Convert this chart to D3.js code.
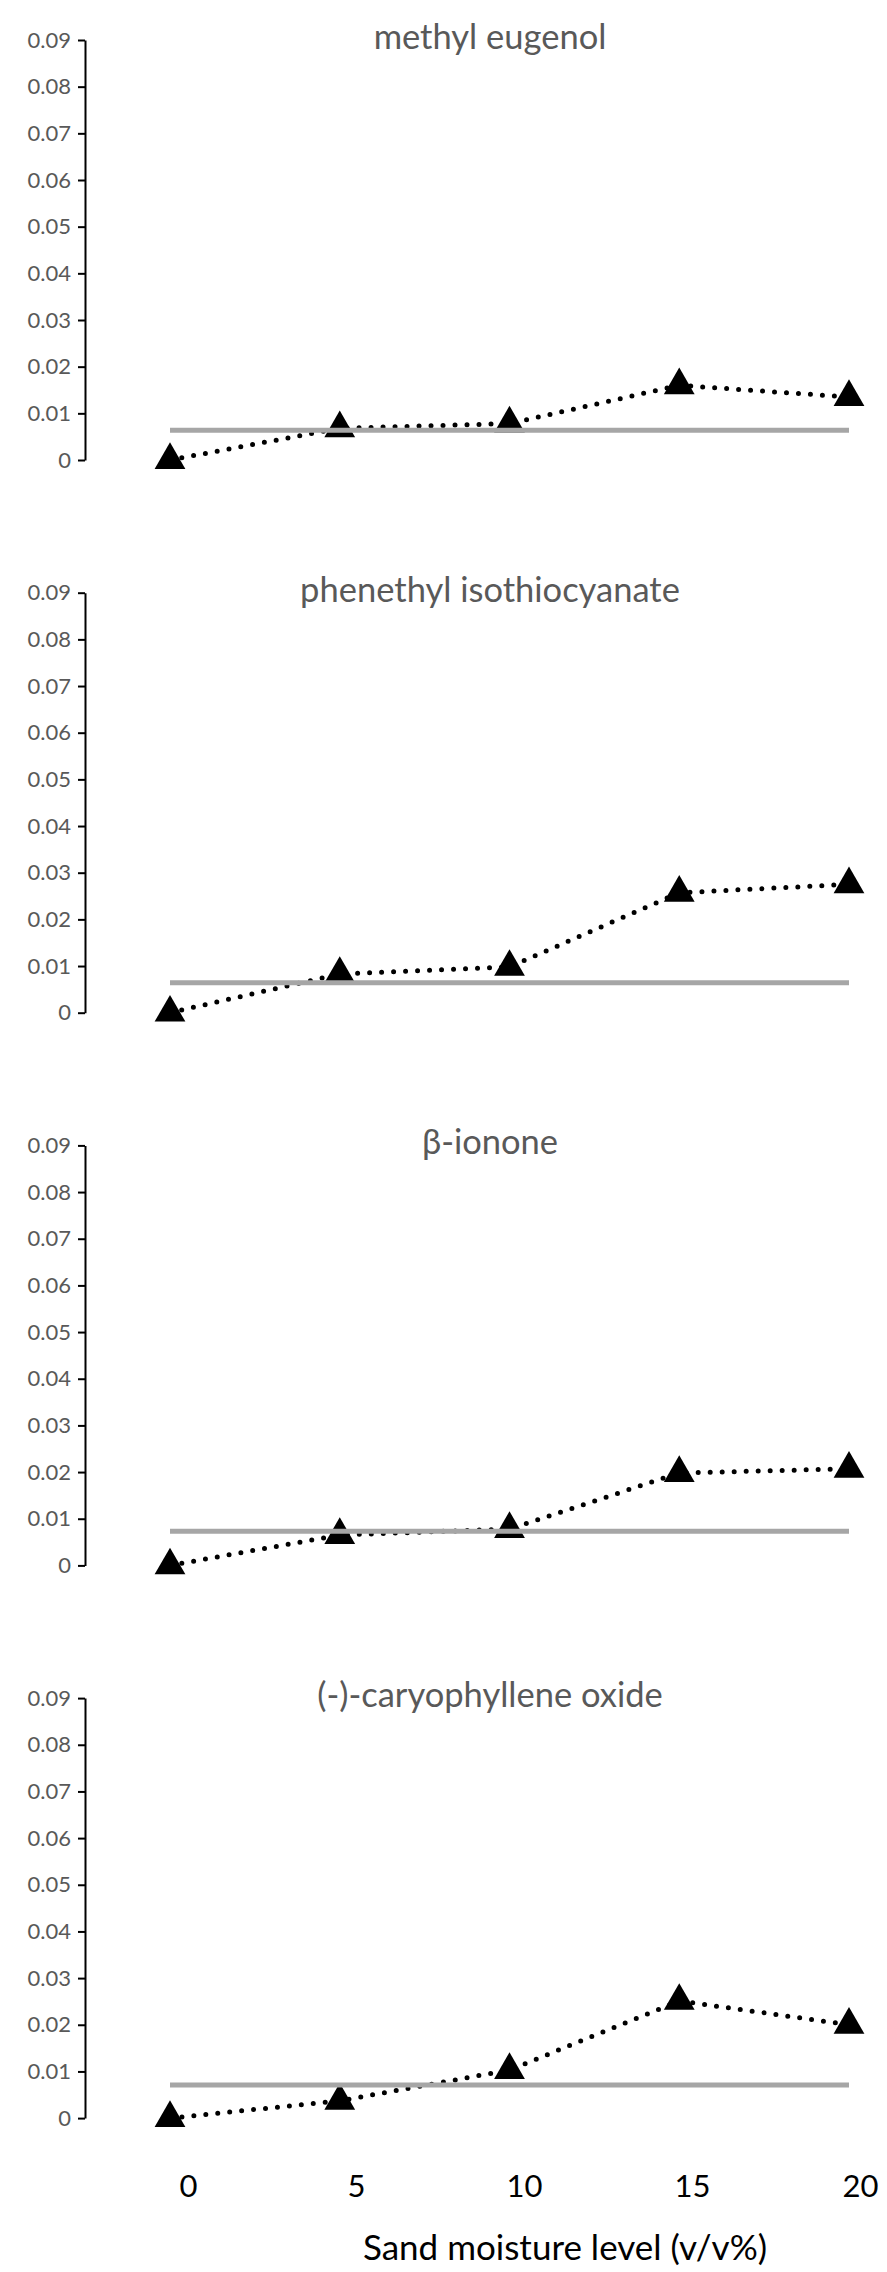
<!DOCTYPE html>
<html>
<head>
<meta charset="utf-8">
<script src="https://cdn.jsdelivr.net/npm/d3@7"></script>
<style>
  body { margin: 0; background: #fff; }
  svg { display: block; font-family: Lato, "Open Sans", sans-serif; }
</style>
</head>
<body>
<div id="chart"></div>
<script>
const width = 887;
const height = 2272;

// data
const moisture = [0, 5, 10, 15, 20];
const compounds = ["methyl eugenol", "phenethyl isothiocyanate", "β-ionone", "(-)-caryophyllene oxide"];
const methylEugenol = [0, 0.0068, 0.0078, 0.016, 0.0135];
const phenethylIsothiocyanate = [0, 0.0083, 0.0098, 0.0257, 0.0275];
const betaIonone = [0, 0.0065, 0.0078, 0.0198, 0.0207];
const caryophylleneOxide = [0, 0.0037, 0.0103, 0.0251, 0.020];
const controlLevel = [0.0064, 0.0064, 0.0073, 0.0071];
const yTicks = [0, 0.01, 0.02, 0.03, 0.04, 0.05, 0.06, 0.07, 0.08, 0.09];
const xAxisTitle = "Sand moisture level (v/v%)";

const series = [methylEugenol, phenethylIsothiocyanate, betaIonone, caryophylleneOxide];

const svg = d3.select("#chart")
    .append("svg")
    .attr("width", width)
    .attr("height", height);

const panelTop = 40;
const panelStep = 552.7;
const panelHeight = 420;
const axisX = 85;

const x = d3.scalePoint().domain(moisture).range([170, 849]);
const xLabels = d3.scalePoint().domain(moisture).range([188, 860]);

const triangle = d3.symbol().type(d3.symbolTriangle).size(410);

series.forEach((values, i) => {
    const top = panelTop + i * panelStep;
    const y = d3.scaleLinear().domain([0, 0.09]).range([top + panelHeight, top]);

    const g = svg.append("g");

    // y axis
    const yAxis = g.append("g")
        .attr("transform", `translate(${axisX},0)`)
        .call(d3.axisLeft(y)
            .tickValues(yTicks)
            .tickSize(7)
            .tickSizeOuter(0)
            .tickPadding(7)
            .tickFormat(d => d === 0 ? "0" : d3.format(".2f")(d)));
    yAxis.select(".domain").attr("stroke", "#000").attr("stroke-width", 2);
    yAxis.selectAll(".tick line").attr("stroke", "#000").attr("stroke-width", 2);
    yAxis.selectAll(".tick text")
        .attr("fill", "#595959")
        .style("font-size", "22px")
        .style("font-family", "Lato, sans-serif");

    // title
    g.append("text")
        .attr("x", 490)
        .attr("y", top + 9)
        .attr("text-anchor", "middle")
        .attr("fill", "#595959")
        .style("font-size", "34.5px")
        .text(compounds[i]);

    // dotted series line
    const line = d3.line()
        .x((d, j) => x(moisture[j]))
        .y(d => y(d));

    g.append("path")
        .datum(values)
        .attr("d", line)
        .attr("fill", "none")
        .attr("stroke", "#000")
        .attr("stroke-width", 5)
        .attr("stroke-linecap", "round")
        .attr("stroke-dasharray", "0 12");

    g.selectAll(".marker")
        .data(values)
        .enter()
        .append("path")
        .attr("class", "marker")
        .attr("d", triangle)
        .attr("transform", (d, j) => `translate(${x(moisture[j])},${y(d)})`)
        .attr("fill", "#000");

    // control level
    g.append("line")
        .attr("x1", x(moisture[0]))
        .attr("x2", x(moisture[moisture.length - 1]))
        .attr("y1", y(controlLevel[i]))
        .attr("y2", y(controlLevel[i]))
        .attr("stroke", "#a6a6a6")
        .attr("stroke-width", 5);
});

// x axis labels (bottom only)
const xAxis = svg.append("g")
    .attr("transform", "translate(0,2175)")
    .call(d3.axisBottom(xLabels).tickSize(0).tickPadding(0));
xAxis.select(".domain").remove();
xAxis.selectAll(".tick text")
    .attr("fill", "#000")
    .style("font-size", "31px")
    .style("font-family", "Lato, sans-serif");

svg.append("text")
    .attr("x", 565)
    .attr("y", 2260)
    .attr("text-anchor", "middle")
    .attr("fill", "#000")
    .style("font-size", "35px")
    .text(xAxisTitle);
</script>
</body>
</html>
